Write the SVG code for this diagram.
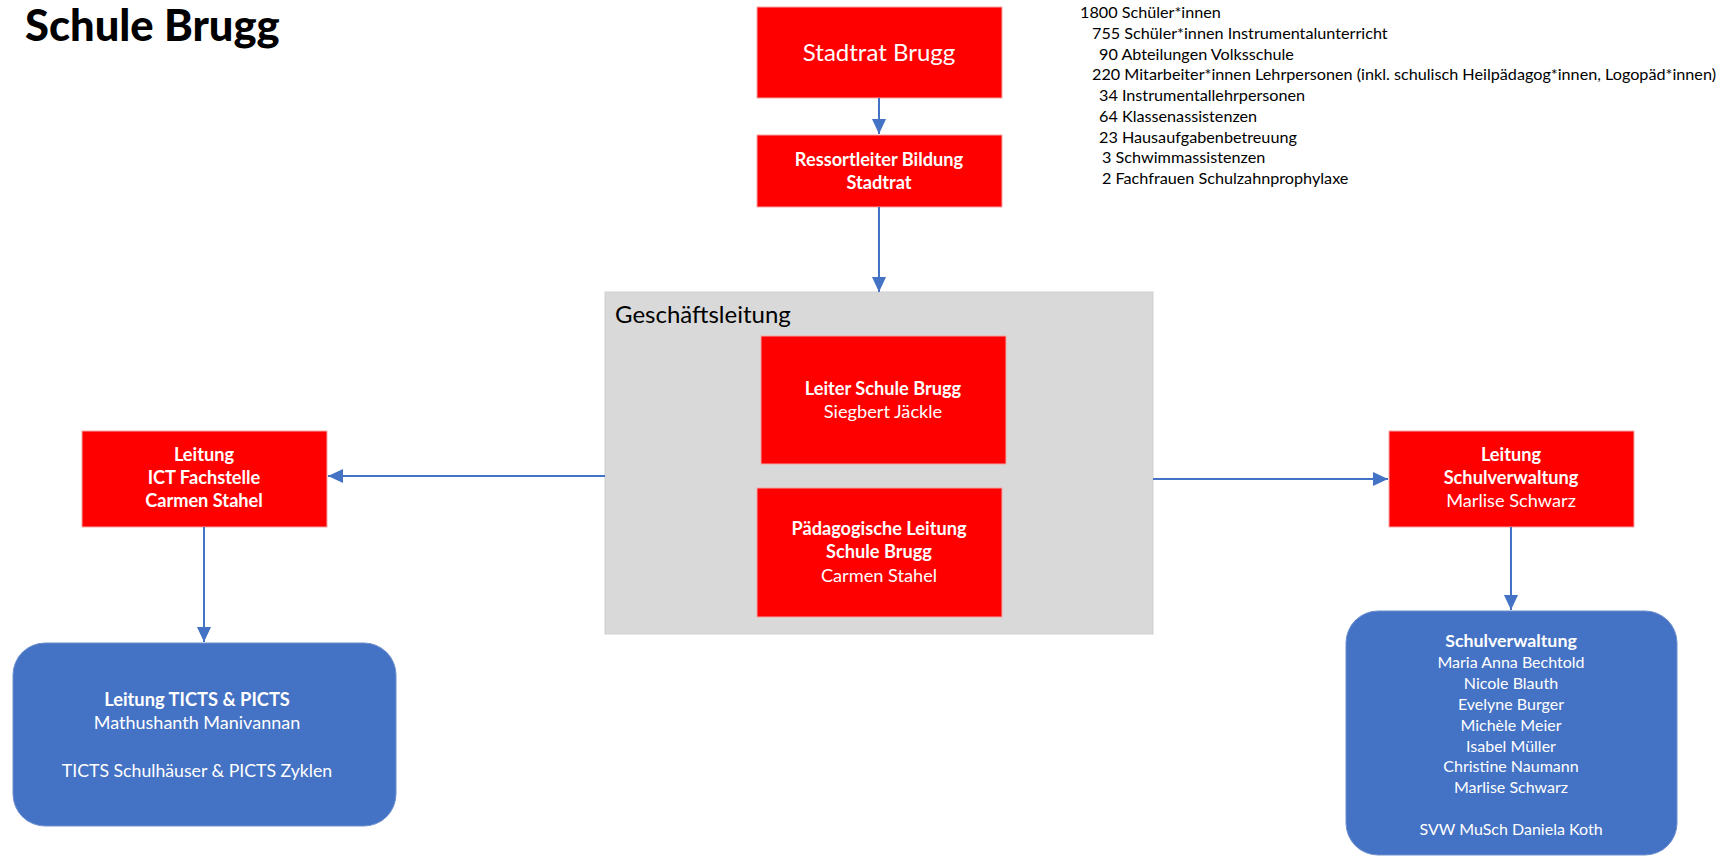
<svg xmlns="http://www.w3.org/2000/svg" width="1735" height="857" viewBox="0 0 1735 857">
<defs>
<style>
text{font-family:Lato,"Liberation Sans",sans-serif}
.red{fill:#FF0000;stroke:#F4A6A6;stroke-width:1}
.blue{fill:#4472C4;stroke:#6F90CF;stroke-width:1}
.gray{fill:#D9D9D9;stroke:#CFCFCF;stroke-width:1}
.w{fill:#FFFFFF;font-size:18.2px;text-anchor:middle}
.s{font-size:16px}
.l{font-size:18px}
.b{font-weight:bold}
.stat{fill:#000;font-size:16.2px}
.con{stroke:#4472C4;stroke-width:2;fill:none;marker-end:url(#ah)}
</style>
<marker id="ah" markerUnits="userSpaceOnUse" markerWidth="16" markerHeight="16" viewBox="0 0 16 16" refX="15" refY="8" orient="auto">
<path d="M0,1 L15,8 L0,15 Z" fill="#4472C4"/>
</marker>
</defs>
<rect width="1735" height="857" fill="#FFFFFF"/>
<text x="25" y="41" style="font-size:43.5px;font-weight:900;fill:#000">Schule Brugg</text>

<g id="stats">
<text class="stat" x="1080" y="18">1800 Schüler*innen</text>
<text class="stat" x="1092" y="39">755 Schüler*innen Instrumentalunterricht</text>
<text class="stat" x="1099" y="60">90 Abteilungen Volksschule</text>
<text class="stat" x="1092" y="80">220 Mitarbeiter*innen Lehrpersonen (inkl. schulisch Heilpädagog*innen, Logopäd*innen)</text>
<text class="stat" x="1099" y="101">34 Instrumentallehrpersonen</text>
<text class="stat" x="1099" y="122">64 Klassenassistenzen</text>
<text class="stat" x="1099" y="143">23 Hausaufgabenbetreuung</text>
<text class="stat" x="1102" y="163">3 Schwimmassistenzen</text>
<text class="stat" x="1102" y="184">2 Fachfrauen Schulzahnprophylaxe</text>
</g>

<g id="geschaeftsleitung">
<rect class="gray" x="605" y="292" width="548" height="342"/>
<text x="615" y="323" style="font-size:24px;fill:#000">Geschäftsleitung</text>
</g>

<g id="stadtrat">
<rect class="red" x="757" y="7" width="245" height="91"/>
<text class="w" x="879" y="61" style="font-size:24px">Stadtrat Brugg</text>
</g>

<g id="ressortleiter">
<rect class="red" x="757" y="135" width="245" height="72"/>
<text class="w b" x="879" y="166">Ressortleiter Bildung</text>
<text class="w b" x="879" y="189">Stadtrat</text>
</g>

<g id="leiter">
<rect class="red" x="761" y="336" width="245" height="128"/>
<text class="w b" x="883" y="395">Leiter Schule Brugg</text>
<text class="w" x="883" y="418">Siegbert Jäckle</text>
</g>

<g id="paed">
<rect class="red" x="757" y="488" width="245" height="129"/>
<text class="w b" x="879" y="535">Pädagogische Leitung</text>
<text class="w b" x="879" y="558">Schule Brugg</text>
<text class="w" x="879" y="582">Carmen Stahel</text>
</g>

<g id="ict">
<rect class="red" x="82" y="431" width="245" height="96"/>
<text class="w b" x="204" y="461">Leitung</text>
<text class="w b" x="204" y="484">ICT Fachstelle</text>
<text class="w b" x="204" y="507">Carmen Stahel</text>
</g>

<g id="leitung-svw">
<rect class="red" x="1389" y="431" width="245" height="96"/>
<text class="w b" x="1511" y="461">Leitung</text>
<text class="w b" x="1511" y="484">Schulverwaltung</text>
<text class="w" x="1511" y="507">Marlise Schwarz</text>
</g>

<g id="ticts">
<rect class="blue" x="13" y="643" width="383" height="183" rx="32" ry="32"/>
<text class="w b" x="197" y="706" style="font-size:18.3px">Leitung TICTS &amp; PICTS</text>
<text class="w l" x="197" y="729">Mathushanth Manivannan</text>
<text class="w" x="197" y="777" style="font-size:17.7px">TICTS Schulhäuser &amp; PICTS Zyklen</text>
</g>

<g id="schulverwaltung">
<rect class="blue" x="1346" y="611" width="331" height="244" rx="32" ry="32"/>
<text class="w b" x="1511" y="647" style="font-size:17.8px">Schulverwaltung</text>
<text class="w s" x="1511" y="668">Maria Anna Bechtold</text>
<text class="w s" x="1511" y="689">Nicole Blauth</text>
<text class="w s" x="1511" y="710">Evelyne Burger</text>
<text class="w s" x="1511" y="731">Michèle Meier</text>
<text class="w s" x="1511" y="752">Isabel Müller</text>
<text class="w s" x="1511" y="772">Christine Naumann</text>
<text class="w s" x="1511" y="793">Marlise Schwarz</text>
<text class="w s" x="1511" y="835">SVW MuSch Daniela Koth</text>
</g>

<g id="connectors">
<line class="con" x1="879" y1="98" x2="879" y2="134"/>
<line class="con" x1="879" y1="207" x2="879" y2="292"/>
<line class="con" x1="605" y1="476" x2="328" y2="476"/>
<line class="con" x1="1153" y1="479" x2="1388" y2="479"/>
<line class="con" x1="204" y1="527" x2="204" y2="642"/>
<line class="con" x1="1511" y1="527" x2="1511" y2="610"/>
</g>
</svg>
